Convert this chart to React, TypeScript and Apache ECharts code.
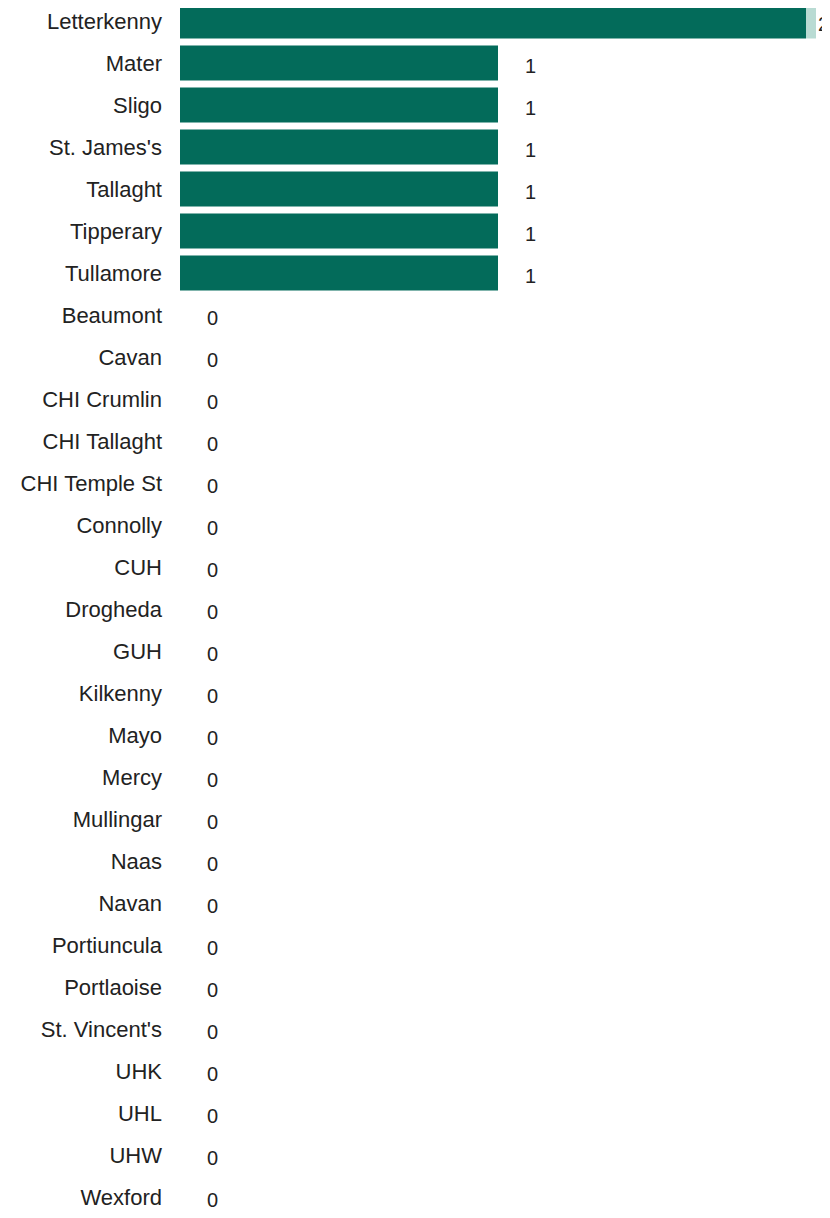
import { FC, useEffect, useRef } from "react";
import * as echarts from "echarts";

const hospitals = [
  "Letterkenny", "Mater", "Sligo", "St. James's", "Tallaght", "Tipperary", "Tullamore",
  "Beaumont", "Cavan", "CHI Crumlin", "CHI Tallaght", "CHI Temple St", "Connolly", "CUH",
  "Drogheda", "GUH", "Kilkenny", "Mayo", "Mercy", "Mullingar", "Naas", "Navan",
  "Portiuncula", "Portlaoise", "St. Vincent's", "UHK", "UHL", "UHW", "Wexford",
];
const counts = [2, 1, 1, 1, 1, 1, 1, 0, 0, 0, 0, 0, 0, 0, 0, 0, 0, 0, 0, 0, 0, 0, 0, 0, 0, 0, 0, 0, 0];

const App: FC = () => {
  const chartRef = useRef<HTMLDivElement>(null);

  useEffect(() => {
    if (!chartRef.current) return;
    const chart = echarts.init(chartRef.current, undefined, { renderer: "svg" });
    const max = Math.max(...counts);
    const labelBase = {
      show: true,
      position: "right",
      color: "#222",
      fontSize: 20,
      verticalAlign: "middle",
      offset: [0, 3],
    };
    chart.setOption({
      animation: false,
      textStyle: { fontFamily: "Liberation Sans, Arial, sans-serif" },
      grid: { left: 180, right: 14, top: -1, bottom: -12, containLabel: false },
      xAxis: { type: "value", max, show: false },
      yAxis: {
        type: "category",
        inverse: true,
        data: hospitals,
        axisLine: { show: false },
        axisTick: { show: false },
        axisLabel: { color: "#222", fontSize: 22, margin: 18 },
      },
      series: [
        {
          type: "bar",
          barCategoryGap: "17%",
          data: counts.map((v) =>
            v === max
              ? {
                  value: v,
                  itemStyle: {
                    color: new echarts.graphic.LinearGradient(0, 0, 1, 0, [
                      { offset: 0, color: "#036b5a" },
                      { offset: 0.984, color: "#036b5a" },
                      { offset: 0.985, color: "#b9dbd3" },
                      { offset: 1, color: "#b9dbd3" },
                    ]),
                  },
                  label: { ...labelBase, distance: 2 },
                }
              : v
          ),
          itemStyle: { color: "#036b5a" },
          label: { ...labelBase, distance: 27 },
        },
      ],
    });
    return () => chart.dispose();
  }, []);

  return <div ref={chartRef} style={{ width: 830, height: 1218, margin: -8 }} />;
};

export default App;
